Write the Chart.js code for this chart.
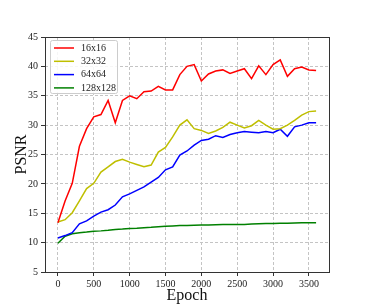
<!DOCTYPE html>
<html>
<head>
<meta charset="utf-8">
<script src="https://cdn.jsdelivr.net/npm/chart.js@4.4.1/dist/chart.umd.min.js"></script>
<style>
html, body { margin: 0; padding: 0; background: #fff; }
</style>
</head>
<body>
<canvas id="chart" width="366" height="305"></canvas>
<script>
const epochs = [0, 100, 200, 300, 400, 500, 600, 700, 800, 900, 1000, 1100, 1200, 1300, 1400, 1500, 1600, 1700, 1800,
    1900, 2000, 2100, 2200, 2300, 2400, 2500, 2600, 2700, 2800, 2900, 3000, 3100, 3200, 3300, 3400, 3500, 3600];
const psnr16 = [13.4, 17.1, 20.1, 26.4, 29.4, 31.4, 31.8, 34.2, 30.4, 34.2, 35.0, 34.5, 35.7, 35.8, 36.6, 36.0, 36.0, 38.6, 40.0,
    40.3, 37.5, 38.7, 39.2, 39.4, 38.8, 39.2, 39.6, 37.9, 40.1, 38.6, 40.3, 41.1, 38.3, 39.6, 39.9, 39.4, 39.3];
const psnr32 = [13.5, 13.9, 15.1, 17.1, 19.2, 20.1, 22.0, 22.9, 23.8, 24.2, 23.7, 23.3, 22.9, 23.2, 25.4, 26.2, 28.0, 30.0, 30.9,
    29.4, 29.1, 28.6, 29.0, 29.6, 30.5, 30.0, 29.5, 29.9, 30.8, 30.0, 29.3, 29.4, 30.0, 30.8, 31.7, 32.3, 32.4];
const psnr64 = [10.8, 11.2, 11.7, 13.2, 13.7, 14.5, 15.2, 15.6, 16.4, 17.8, 18.3, 18.9, 19.5, 20.3, 21.1, 22.4, 22.9, 24.9, 25.6,
    26.6, 27.4, 27.6, 28.2, 27.9, 28.4, 28.7, 28.9, 28.8, 28.7, 28.9, 28.7, 29.3, 28.1, 29.7, 30.0, 30.4, 30.4];
const psnr128 = [9.9, 11.1, 11.5, 11.7, 11.8, 11.95, 12.0, 12.1, 12.25, 12.3, 12.4, 12.45, 12.55, 12.6, 12.7, 12.8, 12.85, 12.9, 12.9,
    12.95, 13.0, 13.0, 13.05, 13.1, 13.1, 13.1, 13.1, 13.15, 13.2, 13.25, 13.25, 13.3, 13.3, 13.35, 13.4, 13.4, 13.4];
const seriesNames = ['16x16', '32x32', '64x64', '128x128'];
const seriesColors = ['#ff0000', '#bfbf00', '#0000ff', '#008000'];
const xTicks = [0, 500, 1000, 1500, 2000, 2500, 3000, 3500];
const yTicks = [5, 10, 15, 20, 25, 30, 35, 40, 45];

const serif = "'Liberation Serif', 'DejaVu Serif', serif";

function pts(vals) {
    return epochs.map((e, i) => ({ x: e, y: vals[i] }));
}

// matplotlib-like frame round the plot area
const framePlugin = {
    id: 'frame',
    afterDraw(chart) {
        const { ctx, chartArea: a } = chart;
        ctx.save();
        ctx.strokeStyle = '#333';
        ctx.lineWidth = 1;
        ctx.strokeRect(Math.round(a.left) + 0.5, Math.round(a.top) + 0.5,
            Math.round(a.right - a.left), Math.round(a.bottom - a.top));
        ctx.restore();
    }
};

// legend inside the axes, upper left
const boxLegend = {
    id: 'boxLegend',
    afterDraw(chart) {
        const { ctx, chartArea: a } = chart;
        const x = a.left + 5, y = a.top + 3, w = 67, h = 53;
        ctx.save();
        ctx.beginPath();
        ctx.roundRect(x + 0.5, y + 0.5, w, h, 2);
        ctx.fillStyle = 'rgba(255,255,255,0.85)';
        ctx.fill();
        ctx.strokeStyle = '#cccccc';
        ctx.lineWidth = 1;
        ctx.stroke();
        ctx.font = '10px ' + serif;
        ctx.textBaseline = 'middle';
        chart.data.datasets.forEach((ds, i) => {
            const ry = y + 8 + i * 13.3;
            ctx.beginPath();
            ctx.moveTo(x + 4, ry);
            ctx.lineTo(x + 24, ry);
            ctx.strokeStyle = ds.borderColor;
            ctx.lineWidth = 1.5;
            ctx.stroke();
            ctx.fillStyle = '#222';
            ctx.fillText(ds.label, x + 31, ry);
        });
        ctx.restore();
    }
};

new Chart("chart", {
    type: "line",
    data: {
        datasets: [
            { label: seriesNames[0], data: pts(psnr16), borderColor: seriesColors[0] },
            { label: seriesNames[1], data: pts(psnr32), borderColor: seriesColors[1] },
            { label: seriesNames[2], data: pts(psnr64), borderColor: seriesColors[2] },
            { label: seriesNames[3], data: pts(psnr128), borderColor: seriesColors[3] }
        ]
    },
    options: {
        responsive: false,
        animation: false,
        layout: { padding: { left: 7, right: 37, top: 37, bottom: 0 } },
        elements: {
            point: { radius: 0 },
            line: { borderWidth: 1.5, tension: 0, fill: false }
        },
        scales: {
            x: {
                type: 'linear',
                min: -180,
                max: 3780,
                afterBuildTicks: s => { s.ticks = xTicks.map(v => ({ value: v })); },
                afterFit: s => { s.height = 33; },
                grid: { color: '#c4c4c4', tickColor: '#333', tickLength: 4, tickBorderDash: [] },
                border: { display: false, dash: [3, 2] },
                ticks: { color: '#222', padding: 2, font: { family: serif, size: 10 }, maxRotation: 0, callback: v => String(v) },
                title: { display: true, text: 'Epoch', color: '#111', padding: 0, font: { family: serif, size: 16 } }
            },
            y: {
                min: 5,
                max: 45,
                afterBuildTicks: s => { s.ticks = yTicks.map(v => ({ value: v })); },
                afterFit: s => { s.width = 38; },
                grid: { color: '#c4c4c4', tickColor: '#333', tickLength: 4, tickBorderDash: [] },
                border: { display: false, dash: [3, 2] },
                ticks: { color: '#222', padding: 3, font: { family: serif, size: 10 }, callback: v => String(v) },
                title: { display: true, text: 'PSNR', color: '#111', padding: { top: 5, bottom: 0 }, font: { family: serif, size: 16 } }
            }
        },
        plugins: {
            legend: { display: false },
            tooltip: { enabled: false }
        }
    },
    plugins: [framePlugin, boxLegend]
});
</script>
</body>
</html>
